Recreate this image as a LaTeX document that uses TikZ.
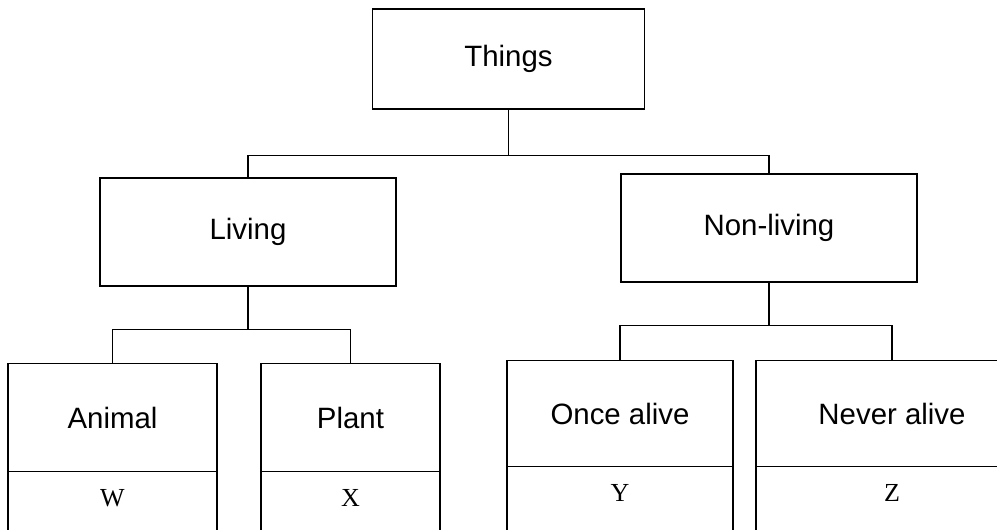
\documentclass[tikz,border=0pt]{standalone}
\usepackage{fontspec}
\setmainfont{Liberation Sans}
\newfontfamily\letterfont{Liberation Serif}
\usetikzlibrary{positioning}

\begin{document}
\begin{tikzpicture}[x=0.5pt, y=0.5pt, grow = down,
	box/.style = {draw, line width=0.7pt, inner sep=0pt, font=\fontsize{14.7}{17}\selectfont},
	cell/.style = {draw, line width=0.7pt, inner sep=0pt, minimum height=32pt, text depth=6pt, font=\letterfont\fontsize{13}{15}\selectfont},
	level 1/.style = {sibling distance=260.5pt, level distance=86.5pt,
		edge from parent path={(\tikzparentnode.south) -- ++(0,-23pt) -| (\tikzchildnode.north)}},
	level 2/.style = {sibling distance=127.5pt, level distance=92.75pt,
		edge from parent path={(\tikzparentnode.south) -- ++(0,-21.5pt) -| (\tikzchildnode.north)}},
	edge from parent/.style = {draw, line width=0.7pt}]
					\useasboundingbox (0,0) rectangle (997,-530);
					\clip (0,0) rectangle (997,-530);
					\node[box, minimum width=136pt, minimum height=50pt] (things) at (508.5,-59) {Things}
					child { node[box, minimum width=148pt, minimum height=54pt] (living) {Living}
						child[xshift=-4pt] { node[box, minimum width=104.5pt, minimum height=54pt] (animal) {Animal}}
						child[xshift=-12.5pt] { node[box, minimum width=89.5pt, minimum height=54pt] (plant) {Plant}}}
					child[yshift=2pt] { node[box, minimum width=148pt, minimum height=54pt] (nonliving) {Non-living} % x_2
						child[xshift=-10.75pt] { node[box, minimum width=113pt, minimum height=53pt] (once) {Once alive}}
						child[xshift=-2.25pt] { node[box, minimum width=136pt, minimum height=53pt] (never) {Never alive}}};
					% lower cells
					\node[cell, minimum width=104.5pt, below=-0.7pt of animal] (w) {W};
					\node[cell, minimum width=89.5pt, below=-0.7pt of plant] (x) {X};
					\node[cell, minimum width=113pt, below=-0.7pt of once] (y) {Y};
					\node[cell, minimum width=136pt, below=-0.7pt of never] (z) {Z};
					\end{tikzpicture}
\end{document}
